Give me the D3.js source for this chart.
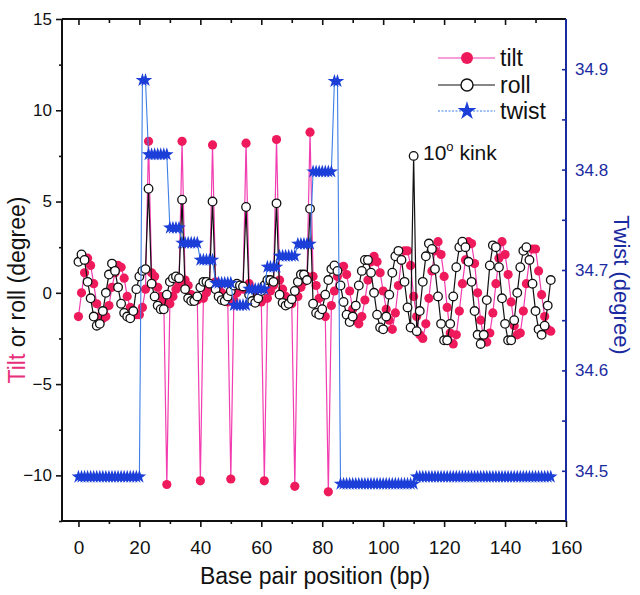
<!DOCTYPE html>
<html><head><meta charset="utf-8">
<script src="https://cdn.jsdelivr.net/npm/d3@7"></script>
<style>
body{margin:0;background:#fff;}
svg{display:block;font-family:"Liberation Sans",Arial,sans-serif;}
</style></head>
<body><svg id="c" width="640" height="595"></svg>
<script>
// base pair positions 0..155
const positions = d3.range(0, 156);
const tilt = [
 -1.3, 0.0, 1.1, 1.9, 1.5, 0.5, -0.6, -1.3, -1.4, -1.3,
 -0.7, 0.3, 1.1, 1.5, 1.4, 0.8, -0.2, -0.8, -1.1, -1.2,
 -1.2, -0.8, 0.2, 8.3, 1.1, 0.9, 0.3, -0.2, -0.4, -10.5,
 -0.6, -0.2, 0.2, 0.5, 8.3, 0.7, 0.4, -0.1, -0.3, -0.4,
 -10.3, -0.3, 0.0, 0.3, 8.1, 0.6, 0.3, 0.0, -0.4, -0.5,
 -10.2, -0.4, 0.0, 0.3, 0.2, 8.2, 0.5, 0.2, -0.2, -0.4,
 -0.5, -10.3, -0.3, 0.1, 0.4, 8.4, 0.7, 0.2, -0.2, -0.5,
 -0.6, -10.6, -0.2, 0.3, 0.6, 0.9, 8.8, 0.9, 0.4, -0.3,
 -0.9, -1.3, -10.9, -0.7, 0.1, 0.9, 1.4, 1.45, 1.0, 0.1,
 -0.9, -1.5, -1.7, -1.3, -0.4, 0.7, 1.7, 2.0, 1.7, 1.1,
 0.1, -0.9, -1.5, -2.0, -1.1, 0.4, 1.8, 2.3, 2.3, 1.5,
 -0.2, -1.3, -2.3, -2.5, -1.7, -0.3, 1.2, 2.3, 2.8, 2.1,
 0.9, -0.8, -2.2, -2.8, -2.3, -1.0, 0.5, 1.8, 2.8, 2.7,
 1.6, 0.0, -1.5, -2.5, -2.7, -2.2, -1.1, 0.5, 1.9, 2.8,
 2.1, 1.0, -0.5, -1.8, -2.3, -2.2, -1.0, 0.5, 1.8, 2.4,
 2.4, 1.2, -0.1, -1.3, -2.0, -2.1
];
const roll = [
 1.7, 2.1, 1.8, 0.6, -0.3, -1.3, -1.8, -1.7, -1.0, 0.0,
 1.0, 1.6, 1.2, 0.3, -0.6, -1.1, -1.3, -1.4, -1.0, 0.2,
 0.9, 1.2, 1.3, 5.7, 0.5, -0.2, -0.7, -0.9, -0.9, -0.1,
 0.6, 0.8, 0.9, 0.8, 5.1, 0.2, -0.3, -0.45, -0.45, -0.2,
 0.3, 0.6, 0.6, 0.5, 5.0, 0.2, -0.2, -0.4, -0.45, -0.2,
 0.1, 0.4, 0.5, 0.4, 0.35, 4.7, -0.1, -0.45, -0.55, -0.3,
 0.1, 0.4, 0.7, 0.7, 0.6, 4.9, -0.1, -0.55, -0.7, -0.6,
 -0.35, 0.1, 0.6, 1.0, 1.0, 0.7, 4.6, -0.6, -1.1, -1.2,
 -0.9, -0.1, 0.7, 1.3, 1.5, 1.2, 0.4, -0.5, -1.2, -1.6,
 -1.3, -0.7, 0.4, 1.2, 1.8, 1.8, 1.1, 0.0, -1.2, -1.9,
 -2.0, -1.3, -0.1, 1.1, 2.0, 2.3, 1.8, 0.6, -0.8, -1.9,
 7.5, -2.1, -1.0, 0.6, 2.0, 2.7, 2.4, 1.3, -0.2, -1.7,
 -2.6, -2.6, -1.7, -0.2, 1.4, 2.5, 2.8, 2.5, 1.7, 0.6,
 -1.0, -2.3, -2.8, -2.3, -0.4, 1.5, 2.6, 2.5, 1.4, -0.3,
 -1.7, -2.6, -2.6, -1.5, 0.0, 1.4, 2.3, 2.5, 1.8, 0.5,
 -1.0, -2.0, -2.3, -1.8, -0.7, 0.7
];
const twist = [
 34.494,34.494,34.494,34.494,34.494,34.494,34.494,34.494,34.494,34.494,
 34.494,34.494,34.494,34.494,34.494,34.494,34.494,34.494,34.494,34.494,
 34.494,34.889,34.889,34.815,34.815,34.815,34.815,34.815,34.815,34.815,
 34.742,34.742,34.742,34.742,34.727,34.727,34.727,34.727,34.727,34.727,
 34.710,34.710,34.710,34.710,34.710,34.687,34.687,34.687,34.687,34.687,
 34.687,34.665,34.665,34.665,34.665,34.665,34.681,34.681,34.681,34.681,
 34.681,34.681,34.703,34.703,34.703,34.703,34.714,34.714,34.714,34.714,
 34.714,34.714,34.726,34.726,34.726,34.726,34.726,34.798,34.798,34.798,
 34.798,34.798,34.798,34.798,34.888,34.888,34.487,34.487,34.487,34.487,
 34.487,34.487,34.487,34.487,34.487,34.487,34.487,34.487,34.487,34.487,
 34.487,34.487,34.487,34.487,34.487,34.487,34.487,34.487,34.487,34.487,
 34.487,34.494,34.494,34.494,34.494,34.494,34.494,34.494,34.494,34.494,
 34.494,34.494,34.494,34.494,34.494,34.494,34.494,34.494,34.494,34.494,
 34.494,34.494,34.494,34.494,34.494,34.494,34.494,34.494,34.494,34.494,
 34.494,34.494,34.494,34.494,34.494,34.494,34.494,34.494,34.494,34.494,
 34.494,34.494,34.494,34.494,34.494,34.494
];
const xTicks = [0, 20, 40, 60, 80, 100, 120, 140, 160];
const yTicks = [-10, -5, 0, 5, 10, 15];
const y2Ticks = [34.5, 34.6, 34.7, 34.8, 34.9];
const seriesNames = ["tilt", "roll", "twist"];

const svg = d3.select("#c");
const L = 62, R = 566, T = 19, B = 521;
const x = d3.scaleLinear().domain([-5.4, 160]).range([L, R]);
const y = d3.scaleLinear().domain([-12.5, 15]).range([B, T]);
const y2 = d3.scaleLinear().domain([34.45, 34.95]).range([B, T]);

const tiltFill = "#ee1a5c", tiltLine = "#f23cb0";
const blue = "#1c3fd8", blueLine = "#3d7fe6", axisBlue = "#1a2aa0";

// frame top
svg.append("line").attr("x1", L).attr("x2", R).attr("y1", T).attr("y2", T)
  .attr("stroke", "#111").attr("stroke-width", 2);

// bottom axis
const gx = svg.append("g").attr("transform", `translate(0,${B})`)
  .call(d3.axisBottom(x).tickValues(xTicks).tickSize(6).tickFormat(d3.format("d")));
gx.select(".domain").attr("stroke", "#111").attr("stroke-width", 2).attr("d", `M${L},0H${R}`);
gx.selectAll(".tick line").attr("stroke", "#111").attr("stroke-width", 1.6);
gx.selectAll(".tick text").attr("font-size", 19).attr("fill", "#111").attr("dy", "1.25em")
  .attr("font-family", "Liberation Sans, Arial, sans-serif");
svg.append("g").attr("transform", `translate(0,${B})`)
  .call(d3.axisBottom(x).tickValues(d3.range(10, 160, 20)).tickSize(3).tickFormat(""))
  .call(g => { g.select(".domain").remove(); g.selectAll("line").attr("stroke", "#111").attr("stroke-width", 1.6); });

// top ticks (inward)
svg.append("g").attr("transform", `translate(0,${T})`)
  .call(d3.axisBottom(x).tickValues(xTicks.filter(d => d < 160)).tickSize(6).tickFormat(""))
  .call(g => { g.select(".domain").remove(); g.selectAll("line").attr("stroke", "#111").attr("stroke-width", 1.6); });
svg.append("g").attr("transform", `translate(0,${T})`)
  .call(d3.axisBottom(x).tickValues(d3.range(10, 160, 20)).tickSize(4).tickFormat(""))
  .call(g => { g.select(".domain").remove(); g.selectAll("line").attr("stroke", "#111").attr("stroke-width", 1.6); });

// left axis
const gy = svg.append("g").attr("transform", `translate(${L},0)`)
  .call(d3.axisLeft(y).tickValues(yTicks).tickSize(6).tickPadding(4).tickFormat(d3.format("d")));
gy.select(".domain").attr("stroke", "#111").attr("stroke-width", 2).attr("d", `M0,${T}V${B}`);
gy.selectAll(".tick line").attr("stroke", "#111").attr("stroke-width", 1.6);
gy.selectAll(".tick text").attr("font-size", 17).attr("fill", "#111")
  .attr("font-family", "Liberation Sans, Arial, sans-serif");
svg.append("g").attr("transform", `translate(${L},0)`)
  .call(d3.axisLeft(y).tickValues([-12.5, -7.5, -2.5, 2.5, 7.5, 12.5]).tickSize(3).tickFormat(""))
  .call(g => { g.select(".domain").remove(); g.selectAll("line").attr("stroke", "#111").attr("stroke-width", 1.6); });

// right axis (blue, ticks inward)
const gr = svg.append("g").attr("transform", `translate(${R},0)`)
  .call(d3.axisRight(y2).tickValues(y2Ticks).tickSize(-4).tickPadding(9).tickFormat(d3.format(".1f")));
gr.select(".domain").attr("stroke", axisBlue).attr("stroke-width", 2).attr("d", `M0,${T}V${B}`);
gr.selectAll(".tick line").attr("stroke", axisBlue).attr("stroke-width", 1.6);
gr.selectAll(".tick text").attr("font-size", 17).attr("fill", axisBlue)
  .attr("font-family", "Liberation Sans, Arial, sans-serif");
svg.append("g").attr("transform", `translate(${R},0)`)
  .call(d3.axisRight(y2).tickValues([34.55, 34.65, 34.75, 34.85]).tickSize(-4).tickFormat(""))
  .call(g => { g.select(".domain").remove(); g.selectAll("line").attr("stroke", axisBlue).attr("stroke-width", 1.6); });

// data
const tiltData = positions.map((p, i) => ({p, v: tilt[i]}));
const rollData = positions.map((p, i) => ({p, v: roll[i]}));
const twistData = positions.map((p, i) => ({p, v: twist[i]}));

const line1 = d3.line().x(d => x(d.p)).y(d => y(d.v));
const line2 = d3.line().x(d => x(d.p)).y(d => y2(d.v));

svg.append("path").datum(tiltData).attr("d", line1).attr("fill", "none")
  .attr("stroke", tiltLine).attr("stroke-width", 1.2);
svg.append("g").selectAll("circle").data(tiltData).join("circle")
  .attr("cx", d => x(d.p)).attr("cy", d => y(d.v)).attr("r", 4.6).attr("fill", tiltFill);

svg.append("path").datum(rollData).attr("d", line1).attr("fill", "none")
  .attr("stroke", "#111").attr("stroke-width", 1.2);
svg.append("g").selectAll("circle").data(rollData).join("circle")
  .attr("cx", d => x(d.p)).attr("cy", d => y(d.v)).attr("r", 4.3)
  .attr("fill", "#fff").attr("stroke", "#111").attr("stroke-width", 1.3);

svg.append("path").datum(twistData).attr("d", line2).attr("fill", "none")
  .attr("stroke", blueLine).attr("stroke-width", 1.1);
const star = d3.symbol().type(d3.symbolStar).size(58);
svg.append("g").selectAll("path").data(twistData).join("path")
  .attr("transform", d => `translate(${x(d.p)},${y2(d.v)})`).attr("d", star).attr("fill", blue);

// legend
const lg = svg.append("g");
const legY = [58, 85, 111];
const lx1 = 438, lx2 = 495, lmx = 467;
lg.append("line").attr("x1", lx1).attr("x2", lx2).attr("y1", legY[0]).attr("y2", legY[0]).attr("stroke", tiltLine).attr("stroke-width", 1.2);
lg.append("circle").attr("cx", lmx).attr("cy", legY[0]).attr("r", 6).attr("fill", tiltFill);
lg.append("line").attr("x1", lx1).attr("x2", lx2).attr("y1", legY[1]).attr("y2", legY[1]).attr("stroke", "#111").attr("stroke-width", 1.2);
lg.append("circle").attr("cx", lmx).attr("cy", legY[1]).attr("r", 6).attr("fill", "#fff").attr("stroke", "#111").attr("stroke-width", 1.4);
lg.append("line").attr("x1", lx1).attr("x2", lx2).attr("y1", legY[2]).attr("y2", legY[2]).attr("stroke", blueLine).attr("stroke-width", 1.1).attr("stroke-dasharray", "2,1.5");
lg.append("path").attr("transform", `translate(${lmx},${legY[2]})`).attr("d", d3.symbol().type(d3.symbolStar).size(110)).attr("fill", blue);
seriesNames.forEach((s, i) => {
  lg.append("text").attr("x", 500).attr("y", legY[i]).attr("dy", "0.35em")
    .attr("font-size", 23).attr("fill", "#111").text(s);
});

// annotation
const ann = svg.append("text").attr("x", 423).attr("y", 160).attr("font-size", 21).attr("fill", "#111");
ann.append("tspan").text("10");
ann.append("tspan").attr("font-size", 13).attr("dy", -9).text("o");
ann.append("tspan").attr("dy", 9).text(" kink");

// axis titles
svg.append("text").attr("x", 315).attr("y", 584).attr("text-anchor", "middle")
  .attr("font-size", 23).attr("fill", "#111").text("Base pair position (bp)");
const yl = svg.append("text").attr("transform", "translate(25,290) rotate(-90)")
  .attr("text-anchor", "middle").attr("font-size", 23);
yl.append("tspan").attr("fill", "#e8307a").text("Tilt");
yl.append("tspan").attr("fill", "#111").text(" or roll (degree)");
svg.append("text").attr("transform", "translate(614,285) rotate(90)")
  .attr("text-anchor", "middle").attr("font-size", 22).attr("fill", axisBlue).text("Twist (degree)");
</script></body></html>
